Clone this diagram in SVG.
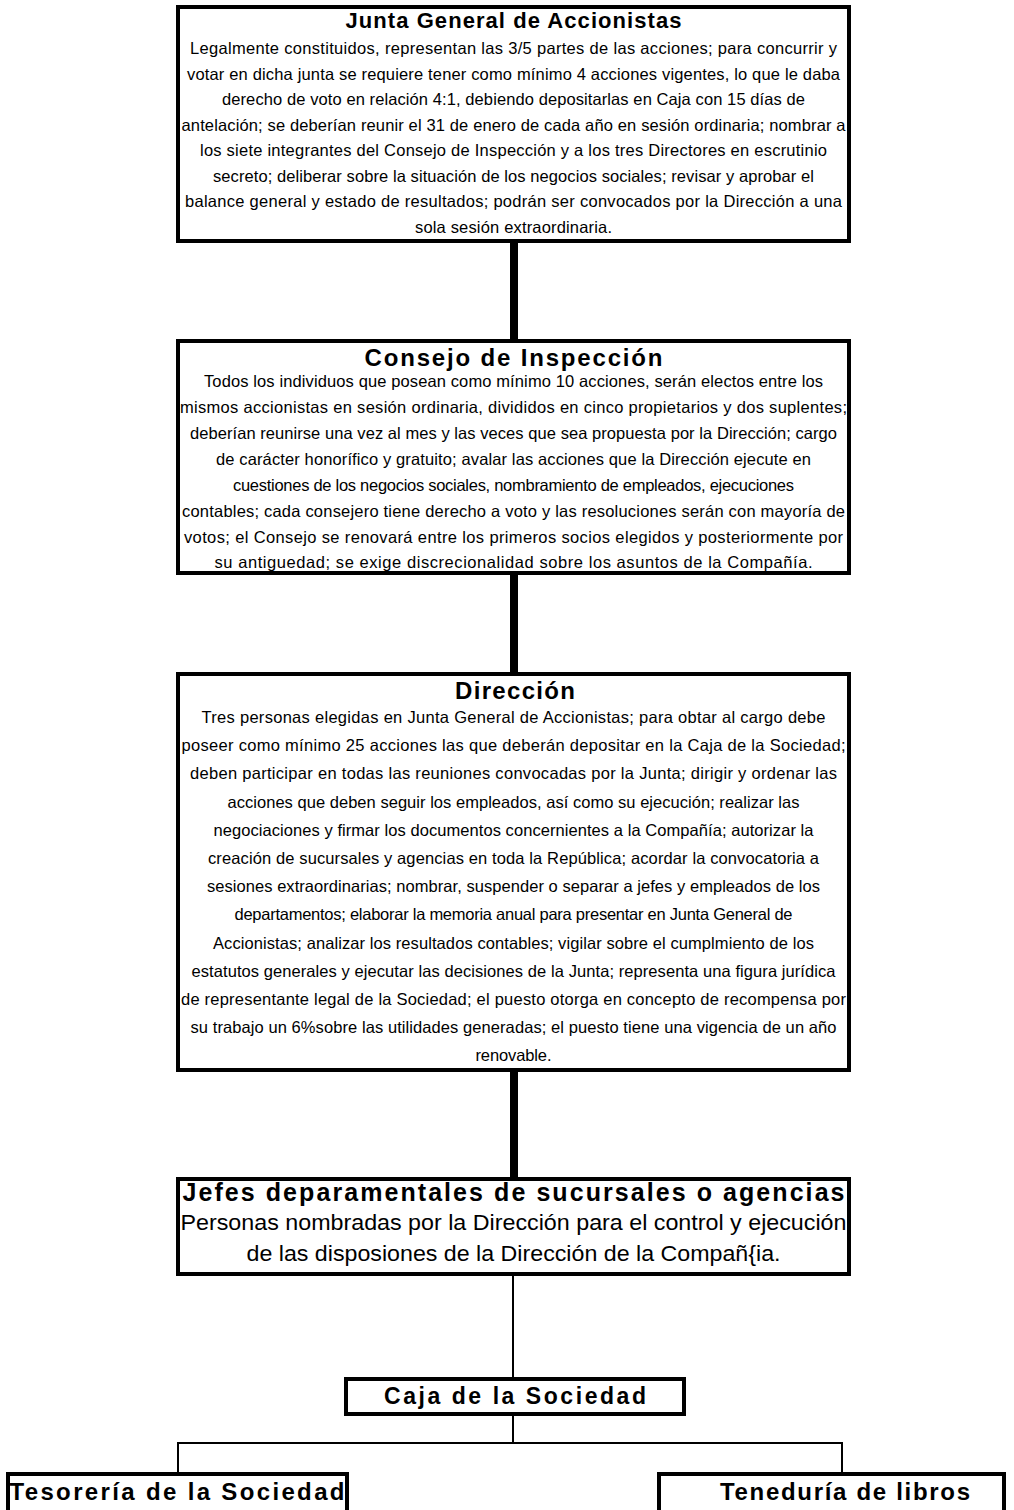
<svg xmlns="http://www.w3.org/2000/svg" width="1014" height="1510" viewBox="0 0 1014 1510">
<style>
.box{fill:#fff;stroke:#000;stroke-width:4}
.t{font-family:"Liberation Sans",Arial,sans-serif;fill:#000;text-anchor:middle}
.h{font-weight:bold}
.b{font-size:16.5px}
.thick{stroke:#000;stroke-width:8;fill:none}
.thin{stroke:#000;stroke-width:2;fill:none}
</style>
<rect width="1014" height="1510" fill="#fff"/>
<g id="connectors">
<line class="thick" x1="514" y1="241" x2="514" y2="341"/>
<line class="thick" x1="514" y1="573" x2="514" y2="674"/>
<line class="thick" x1="514" y1="1070" x2="514" y2="1179"/>
<line class="thin" x1="513" y1="1274" x2="513" y2="1379"/>
<line class="thin" x1="513" y1="1414" x2="513" y2="1443"/>
<polyline class="thin" points="178,1472 178,1443 842,1443 842,1472"/>
</g>
<g id="junta">
<rect class="box" x="178" y="7" width="671" height="234"/>
<text class="t h" x="513.5" y="28" font-size="22" textLength="336" lengthAdjust="spacing">Junta General de Accionistas</text>
<g class="t b">
<text x="513.5" y="54" textLength="647" lengthAdjust="spacing">Legalmente constituidos, representan las 3/5 partes de las acciones; para concurrir y</text>
<text x="513.5" y="79.5" textLength="653" lengthAdjust="spacing">votar en dicha junta se requiere tener como mínimo 4 acciones vigentes, lo que le daba</text>
<text x="513.5" y="105" textLength="583" lengthAdjust="spacing">derecho de voto en relación 4:1, debiendo depositarlas en Caja con 15 días de</text>
<text x="513.5" y="130.5" textLength="664" lengthAdjust="spacing">antelación; se deberían reunir el 31 de enero de cada año en sesión ordinaria; nombrar a</text>
<text x="513.5" y="156" textLength="627" lengthAdjust="spacing">los siete integrantes del Consejo de Inspección y a los tres Directores en escrutinio</text>
<text x="513.5" y="181.5" textLength="601" lengthAdjust="spacing">secreto; deliberar sobre la situación de los negocios sociales; revisar y aprobar el</text>
<text x="513.5" y="207" textLength="657" lengthAdjust="spacing">balance general y estado de resultados; podrán ser convocados por la Dirección a una</text>
<text x="513.5" y="232.5" textLength="197" lengthAdjust="spacing">sola sesión extraordinaria.</text>
</g>
</g>
<g id="consejo">
<rect class="box" x="178" y="341" width="671" height="232"/>
<text class="t h" x="513.5" y="366" font-size="24" textLength="298" lengthAdjust="spacing">Consejo de Inspección</text>
<g class="t b">
<text x="513.5" y="387" textLength="619" lengthAdjust="spacing">Todos los individuos que posean como mínimo 10 acciones, serán electos entre los</text>
<text x="513.5" y="413" textLength="667" lengthAdjust="spacing">mismos accionistas en sesión ordinaria, divididos en cinco propietarios y dos suplentes;</text>
<text x="513.5" y="439" textLength="647" lengthAdjust="spacing">deberían reunirse una vez al mes y las veces que sea propuesta por la Dirección; cargo</text>
<text x="513.5" y="465" textLength="595" lengthAdjust="spacing">de carácter honorífico y gratuito; avalar las acciones que la Dirección ejecute en</text>
<text x="513.5" y="491" textLength="561" lengthAdjust="spacing">cuestiones de los negocios sociales, nombramiento de empleados, ejecuciones</text>
<text x="513.5" y="517" textLength="663" lengthAdjust="spacing">contables; cada consejero tiene derecho a voto y las resoluciones serán con mayoría de</text>
<text x="513.5" y="543" textLength="659" lengthAdjust="spacing">votos; el Consejo se renovará entre los primeros socios elegidos y posteriormente por</text>
<text x="513.5" y="568" textLength="598" lengthAdjust="spacing">su antiguedad; se exige discrecionalidad sobre los asuntos de la Compañía.</text>
</g>
</g>
<g id="direccion">
<rect class="box" x="178" y="674" width="671" height="396"/>
<text class="t h" x="515" y="699" font-size="24" textLength="120" lengthAdjust="spacing">Dirección</text>
<g class="t b">
<text x="513.5" y="723" textLength="624" lengthAdjust="spacing">Tres personas elegidas en Junta General de Accionistas; para obtar al cargo debe</text>
<text x="513.5" y="751.2" textLength="664" lengthAdjust="spacing">poseer como mínimo 25 acciones las que deberán depositar en la Caja de la Sociedad;</text>
<text x="513.5" y="779.4" textLength="647" lengthAdjust="spacing">deben participar en todas las reuniones convocadas por la Junta; dirigir y ordenar las</text>
<text x="513.5" y="807.6" textLength="572" lengthAdjust="spacing">acciones que deben seguir los empleados, así como su ejecución; realizar las</text>
<text x="513.5" y="835.8" textLength="600" lengthAdjust="spacing">negociaciones y firmar los documentos concernientes a la Compañía; autorizar la</text>
<text x="513.5" y="864" textLength="611" lengthAdjust="spacing">creación de sucursales y agencias en toda la República; acordar la convocatoria a</text>
<text x="513.5" y="892.2" textLength="613" lengthAdjust="spacing">sesiones extraordinarias; nombrar, suspender o separar a jefes y empleados de los</text>
<text x="513.5" y="920.4" textLength="558" lengthAdjust="spacing">departamentos; elaborar la memoria anual para presentar en Junta General de</text>
<text x="513.5" y="948.6" textLength="601" lengthAdjust="spacing">Accionistas; analizar los resultados contables; vigilar sobre el cumplmiento de los</text>
<text x="513.5" y="976.8" textLength="644" lengthAdjust="spacing">estatutos generales y ejecutar las decisiones de la Junta; representa una figura jurídica</text>
<text x="513.5" y="1005" textLength="665" lengthAdjust="spacing">de representante legal de la Sociedad; el puesto otorga en concepto de recompensa por</text>
<text x="513.5" y="1033.2" textLength="646" lengthAdjust="spacing">su trabajo un 6%sobre las utilidades generadas; el puesto tiene una vigencia de un año</text>
<text x="513.5" y="1061.4" textLength="76" lengthAdjust="spacing">renovable.</text>
</g>
</g>
<g id="jefes">
<rect class="box" x="178" y="1179" width="671" height="95"/>
<text class="t h" x="513.5" y="1201" font-size="25" textLength="662" lengthAdjust="spacing">Jefes deparamentales de sucursales o agencias</text>
<text class="t" x="513.5" y="1230" font-size="22" textLength="666" lengthAdjust="spacingAndGlyphs">Personas nombradas por la Dirección para el control y ejecución</text>
<text class="t" x="513.5" y="1261" font-size="22" textLength="534" lengthAdjust="spacingAndGlyphs">de las disposiones de la Dirección de la Compañ{ia.</text>
</g>
<g id="caja">
<rect class="box" x="346" y="1379" width="338" height="35"/>
<text class="t h" x="515" y="1404" font-size="23" textLength="262" lengthAdjust="spacing">Caja de la Sociedad</text>
</g>
<g id="tesoreria">
<rect class="box" x="8" y="1474" width="339" height="50"/>
<text class="t h" x="177" y="1500" font-size="24" textLength="335" lengthAdjust="spacing">Tesorería de la Sociedad</text>
</g>
<g id="teneduria">
<rect class="box" x="659" y="1474" width="345" height="50"/>
<text class="t h" x="845" y="1500" font-size="24" textLength="250" lengthAdjust="spacing">Teneduría de libros</text>
</g>
</svg>
